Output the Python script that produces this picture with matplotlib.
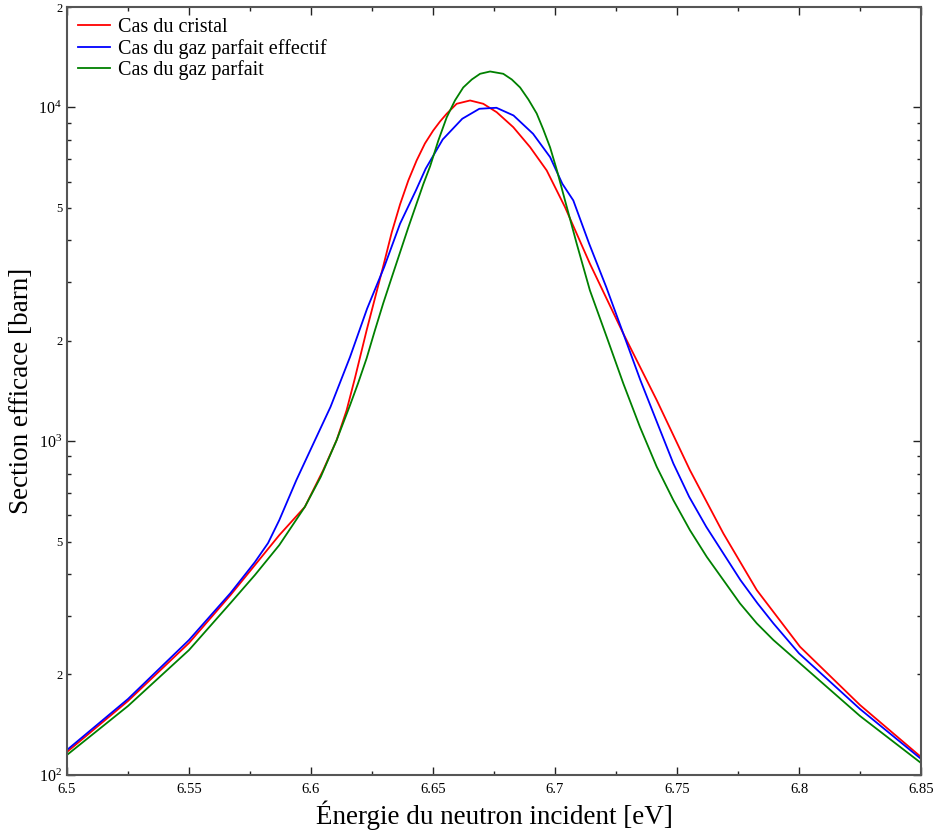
import numpy as np
import matplotlib
matplotlib.use("Agg")
import matplotlib.pyplot as plt
from matplotlib.ticker import LogLocator, FuncFormatter, MultipleLocator

plt.rcParams['font.family'] = ['Liberation Serif', 'DejaVu Serif']
plt.rcParams['mathtext.fontset'] = 'custom'
plt.rcParams['mathtext.rm'] = 'Liberation Serif'
plt.rcParams['mathtext.it'] = 'Liberation Serif:italic'

# Cas du cristal
E_cristal = [6.500, 6.525, 6.550, 6.567, 6.577, 6.587, 6.5975, 6.605, 6.6105, 6.6146,
             6.618, 6.6228, 6.6262, 6.6296, 6.6331, 6.6365, 6.6399, 6.6433, 6.6467,
             6.6501, 6.6529, 6.6556, 6.6597, 6.6652,
             6.6706, 6.6761, 6.6829, 6.6898, 6.6966, 6.7041, 6.7143, 6.728, 6.7417,
             6.7553, 6.769, 6.7827, 6.8004, 6.825, 6.850]
s_cristal = [117.2, 166.6, 248.5, 345.9, 425.3, 523.0, 635.9, 818.9, 1007, 1238,
             1544, 2149, 2680, 3342, 4224, 5124, 6045, 6939, 7802,
             8532, 9082, 9575, 10259, 10495,
             10259, 9680, 8730, 7605, 6477, 5029, 3404, 2101, 1327,
             818.9, 529.2, 358.0, 242.2, 162.0, 113.2]

# Cas du gaz parfait effectif
E_effectif = [6.500, 6.525, 6.550, 6.567, 6.577, 6.5824, 6.587, 6.594, 6.601, 6.608,
              6.616, 6.623, 6.630, 6.6365, 6.643, 6.647, 6.654, 6.662, 6.669, 6.676,
              6.683, 6.691, 6.698, 6.703, 6.7075, 6.714, 6.721, 6.728, 6.735, 6.742,
              6.7485, 6.755, 6.762, 6.769, 6.776, 6.783, 6.7895, 6.800, 6.825, 6.850]
s_effectif = [118.8, 168.9, 253.7, 350.7, 434.2, 495.1, 580.0, 764.3, 984.3, 1267,
              1788, 2496, 3326, 4485, 5643, 6554, 8022, 9252, 9911, 9980,
              9464, 8342, 7100, 5909, 5267, 3907, 2897, 2101, 1523, 1130,
              857.7, 681.2, 553.9, 461.0, 383.6, 326.7, 284.6, 231.4, 157.6, 111.7]

# Cas du gaz parfait
E_parfait = [6.500, 6.525, 6.550, 6.567, 6.577, 6.587, 6.5975, 6.604, 6.6105, 6.616,
             6.6193, 6.6228, 6.6262, 6.6296, 6.6331, 6.6365, 6.6399, 6.6433, 6.6460,
             6.6488, 6.6522, 6.6556, 6.6590, 6.6624, 6.6659, 6.6693, 6.6734, 6.6788,
             6.6823, 6.6857, 6.6891, 6.6925, 6.6952, 6.6980, 6.7008, 6.7041, 6.7089,
             6.7143, 6.7212, 6.728, 6.7348, 6.7417, 6.7485, 6.7553, 6.7622, 6.769,
             6.7758, 6.7827, 6.7895, 6.8004, 6.825, 6.850]
s_parfait = [114.8, 160.9, 236.7, 327.3, 397.1, 488.3, 635.9, 781.9, 1007, 1282,
             1492, 1772, 2149, 2589, 3097, 3680, 4373, 5159, 5883,
             6658, 7965, 9335, 10495, 11480, 12130, 12617, 12819, 12617,
             12130, 11480, 10568, 9594, 8593, 7590, 6477, 5267, 3907,
             2832, 2052, 1489, 1104, 837.9, 666.0, 541.4, 450.3, 383.6,
             326.7, 284.6, 253.7, 216.0, 150.2, 108.6]

fig = plt.figure(figsize=(9.34, 8.35), dpi=100)
ax = fig.add_axes([0.0717, 0.0719, 0.9144, 0.9197])

ax.plot(E_cristal, s_cristal, color='#ff0000', lw=1.3, label='Cas du cristal')
ax.plot(E_effectif, s_effectif, color='#0000ff', lw=1.3, label='Cas du gaz parfait effectif')
ax.plot(E_parfait, s_parfait, color='#008000', lw=1.3, label='Cas du gaz parfait')

ax.set_yscale('log')
ax.set_xlim(6.5, 6.85)
ax.set_ylim(100, 2e4)

ax.xaxis.set_major_locator(MultipleLocator(0.05))
ax.xaxis.set_minor_locator(MultipleLocator(0.025))
ax.xaxis.set_major_formatter(FuncFormatter(lambda v, p: ('%.2f' % v).rstrip('0').rstrip('.')))

ax.yaxis.set_major_locator(LogLocator(base=10, subs=(1.0,)))
ax.yaxis.set_minor_locator(LogLocator(base=10, subs=np.arange(2, 10), numticks=20))
ax.yaxis.set_major_formatter(FuncFormatter(lambda v, p: r'$10^{%d}$' % round(np.log10(v))))


def minor_fmt(v, p):
    m = v / 10 ** np.floor(np.log10(v) + 1e-9)
    if abs(m - 2) < 1e-6 or abs(m - 5) < 1e-6:
        return '%d' % round(m)
    return ''


ax.yaxis.set_minor_formatter(FuncFormatter(minor_fmt))

ax.tick_params(which='both', direction='in', top=True, right=True, color='#222222')
ax.tick_params(which='major', length=6, width=1.0, labelsize=11.5)
ax.tick_params(which='minor', length=3, width=1.0, labelsize=9)
ax.tick_params(axis='x', which='major', labelsize=10.5, pad=6)
for sp in ax.spines.values():
    sp.set_color('#555555')
    sp.set_linewidth(1.5)

ax.set_xlabel('Énergie du neutron incident [eV]', fontsize=19.5, labelpad=3)
ax.set_ylabel('Section efficace [barn]', fontsize=19.5, labelpad=3)

ax.legend(loc='upper left', frameon=False, fontsize=14.5, handlelength=1.6,
          labelspacing=0.08, borderaxespad=0.15, handletextpad=0.4)

fig.savefig('out.png', dpi=100)
